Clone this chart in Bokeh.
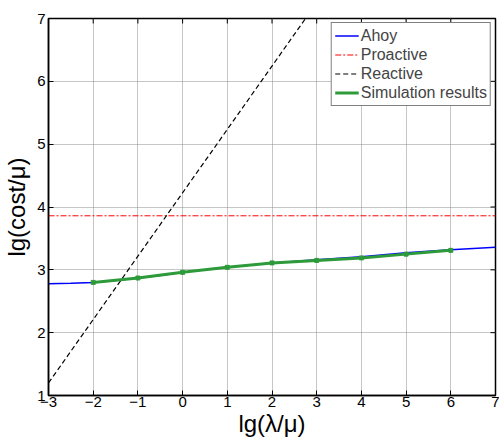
import math
from bokeh.plotting import figure
from bokeh.models import Range1d, FixedTicker, Legend, LegendItem
from bokeh.embed import file_html
from bokeh.resources import INLINE

# ---- data ----
ahoy_x = [-3, -2.5, -2, -1.5, -1, -0.5, 0, 1, 2, 3, 4, 5, 6, 7]
ahoy_y = [2.78, 2.785, 2.80, 2.83, 2.87, 2.91, 2.96, 3.04, 3.11, 3.16, 3.21, 3.27, 3.32, 3.36]
proactive_x = [-3, 7]
proactive_y = [3.86, 3.86]
reactive_x = [-3, 2.75]
reactive_y = [1.2, 7.0]
sim_x = [-2, -1, 0, 1, 2, 3, 4, 5, 6]
sim_y = [2.80, 2.87, 2.96, 3.04, 3.11, 3.15, 3.19, 3.25, 3.31]
x_ticks = [-3, -2, -1, 0, 1, 2, 3, 4, 5, 6, 7]
y_ticks = [1, 2, 3, 4, 5, 6, 7]
X_MIN, X_MAX = -3, 7
Y_MIN, Y_MAX = 1, 7

FONT = "Liberation Sans"

p = figure(width=499, height=443, output_backend="svg", toolbar_location=None,
           x_range=Range1d(X_MIN, X_MAX), y_range=Range1d(Y_MIN, Y_MAX),
           min_border_left=48, min_border_right=4, min_border_top=18, min_border_bottom=48,
           outline_line_color="black", outline_line_width=1.5)

for ax in (p.xaxis[0], p.yaxis[0]):
    ax.major_tick_in = 5
    ax.major_tick_out = 0
    ax.minor_tick_in = 0
    ax.minor_tick_out = 0
    ax.axis_line_color = "black"
    ax.axis_line_width = 1.5
    ax.major_label_text_font = FONT
    ax.major_label_text_font_size = "15px"
    ax.major_label_text_color = "black"
    ax.axis_label_text_font = FONT
    ax.axis_label_text_font_size = "24px"
    ax.axis_label_text_font_style = "normal"
    ax.axis_label_text_color = "black"

p.xaxis[0].ticker = FixedTicker(ticks=x_ticks)
p.yaxis[0].ticker = FixedTicker(ticks=y_ticks)
p.xaxis[0].axis_label = "lg(λ/μ)"
p.yaxis[0].axis_label = "lg(cost/μ)"
p.xaxis[0].major_label_standoff = 1
p.yaxis[0].major_label_standoff = 3
p.xaxis[0].axis_label_standoff = 0
p.yaxis[0].axis_label_standoff = 4

p.xgrid.ticker = FixedTicker(ticks=x_ticks)
p.ygrid.ticker = FixedTicker(ticks=y_ticks)
for g in (p.xgrid, p.ygrid):
    g.grid_line_color = "#8c8c8c"
    g.grid_line_dash = "1 1"
    g.grid_line_width = 1

# inward tick marks on the top and right edges
p.scatter(x_ticks, [Y_MAX] * len(x_ticks), marker="dash", angle=math.pi / 2,
          size=10, line_color="black", line_width=1)
p.scatter([X_MAX] * len(y_ticks), y_ticks, marker="dash",
          size=10, line_color="black", line_width=1)

r_ahoy = p.line(ahoy_x, ahoy_y, line_color="#0000ff", line_width=1.5)
r_pro = p.line(proactive_x, proactive_y, line_color="#ff0000", line_width=1, line_dash="6 2 2 2")
r_rea = p.line(reactive_x, reactive_y, line_color="black", line_width=1.2, line_dash="5 3")
r_sim = p.line(sim_x, sim_y, line_color="#2e9b3a", line_width=3)
p.scatter(sim_x, sim_y, marker="square", size=4, color="#2e9b3a")

legend = Legend(items=[
    LegendItem(label="Ahoy", renderers=[r_ahoy]),
    LegendItem(label="Proactive", renderers=[r_pro]),
    LegendItem(label="Reactive", renderers=[r_rea]),
    LegendItem(label="Simulation results", renderers=[r_sim]),
], location="top_right")
legend.label_text_font = FONT
legend.label_text_font_size = "16px"
legend.label_standoff = 2
legend.glyph_width = 24
legend.glyph_height = 19
legend.label_height = 19
legend.spacing = 0
legend.padding = 3
legend.margin = 4
legend.border_line_color = "black"
legend.border_line_width = 1.5
legend.background_fill_alpha = 1
p.add_layout(legend)

open("out.html", "w").write(file_html(p, INLINE))
